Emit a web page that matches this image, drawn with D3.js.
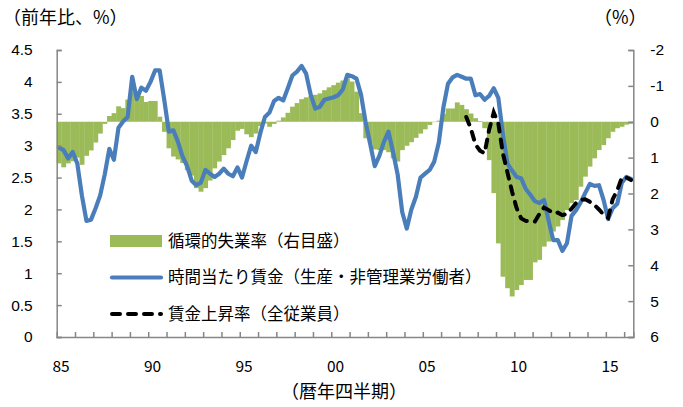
<!DOCTYPE html>
<html>
<head>
<meta charset="utf-8">
<script src="https://cdn.jsdelivr.net/npm/d3@7"></script>
<style>
  body { margin: 0; background: #fff; }
  svg { display: block; font-family: "Noto Sans CJK JP", "Noto Sans", sans-serif; }
  .axis path, .axis line { stroke: #868686; stroke-width: 1.5; }
  .axis text { fill: #000; font-size: 15.5px; }
</style>
</head>
<body>
<svg id="chart" width="683" height="407"></svg>
<script>
// quarterly, 1985Q1 - 2016Q2
const startYear = 1985;
const nQuarters = 126;

// cyclical unemployment rate (right axis, inverted), %pt
const gapValues = [
  1.16, 1.27, 1.16, 1.10, 1.00, 1.20, 0.95, 0.80, 0.58, 0.33, 0.06, -0.16,
  -0.24, -0.43, -0.38, -0.62, -0.84, -0.75, -0.72, -0.55, -0.58, -0.58, -0.14, 0.28,
  0.74, 0.97, 1.05, 1.15, 1.35, 1.50, 1.85, 1.95, 1.85, 1.64, 1.30, 1.11,
  0.93, 0.74, 0.51, 0.25, 0.20, 0.35, 0.43, 0.33, 0.12, 0.05, 0.14, 0.06,
  -0.03, -0.12, -0.25, -0.42, -0.52, -0.63, -0.68, -0.72, -0.75, -0.79, -0.88, -0.96,
  -1.02, -1.09, -1.15, -1.21, -1.12, -0.84, -0.24, 0.46, 0.60, 0.77, 0.79, 0.79,
  0.85, 1.02, 1.11, 0.79, 0.67, 0.57, 0.45, 0.33, 0.21, 0.09, 0.01, -0.03,
  -0.22, -0.37, -0.37, -0.54, -0.47, -0.35, -0.23, -0.10, -0.02, 0.18, 1.07, 1.99,
  3.39, 4.32, 4.64, 4.87, 4.69, 4.55, 4.41, 4.41, 3.92, 3.85, 3.48, 3.34,
  3.06, 2.92, 2.74, 2.46, 2.27, 2.18, 1.81, 1.53, 1.25, 1.02, 0.79, 0.65,
  0.46, 0.28, 0.18, 0.14, 0.08, 0.06
];

// hourly earnings, production & nonsupervisory, yoy %
const wageValues = [
  2.97, 2.93, 2.80, 2.90, 2.72, 2.22, 1.82, 1.84, 2.02, 2.22, 2.55, 2.95,
  2.78, 3.28, 3.38, 3.45, 4.08, 3.73, 3.91, 3.86, 4.00, 4.18, 4.18, 3.72,
  3.22, 3.24, 3.06, 2.83, 2.68, 2.45, 2.38, 2.42, 2.62, 2.56, 2.51, 2.56,
  2.64, 2.56, 2.52, 2.66, 2.50, 2.76, 3.00, 2.90, 3.20, 3.45, 3.52, 3.70,
  3.75, 3.71, 3.90, 4.10, 4.16, 4.25, 4.13, 3.80, 3.58, 3.61, 3.72, 3.74,
  3.76, 3.79, 3.88, 4.11, 4.09, 4.05, 3.80, 3.37, 3.03, 2.68, 2.84, 3.06,
  3.22, 2.90, 2.55, 1.96, 1.70, 2.00, 2.20, 2.50, 2.56, 2.62, 2.75, 3.05,
  3.60, 3.97, 4.07, 4.11, 4.08, 4.05, 4.05, 3.79, 3.81, 3.72, 3.78, 3.90,
  3.75, 3.18, 2.72, 2.61, 2.51, 2.49, 2.32, 2.23, 2.13, 2.10, 2.15, 1.82,
  1.52, 1.52, 1.35, 1.47, 1.90, 1.99, 2.11, 2.26, 2.40, 2.37, 2.38, 2.15,
  1.85, 2.02, 2.09, 2.42, 2.51, 2.48
];

// hourly earnings, all employees, yoy % (from 2007Q2)
const allStart = 89;
const allValues = [
  3.45, 3.27, 3.02, 2.92, 2.88, 3.25, 3.52, 3.35, 2.88, 2.58, 2.28, 2.02,
  1.86, 1.82, 1.81, 1.81, 1.93, 2.03, 1.99, 1.94, 1.95, 1.91, 1.93, 2.01,
  2.10, 2.15, 2.16, 2.12, 2.07, 2.00, 1.92, 1.87, 2.16, 2.30, 2.50, 2.50,
  2.46
];

const leftTicks = [0, 0.5, 1, 1.5, 2, 2.5, 3, 3.5, 4, 4.5];
const rightTicks = [-2, -1, 0, 1, 2, 3, 4, 5, 6];
const yearLabels = ["85", "90", "95", "00", "05", "10", "15"];

const legendItems = [
  {type: "bar", label: "循環的失業率（右目盛）"},
  {type: "line", label: "時間当たり賃金（生産・非管理業労働者）"},
  {type: "dash", label: "賃金上昇率（全従業員）"}
];

const green = "#9bbb59";
const blue = "#4a7ebb";

const quarters = d3.range(nQuarters);
const plotLeft = 56.7, plotRight = 633.3, plotTop = 50, plotBottom = 337;

const x = d3.scaleBand().domain(quarters).range([plotLeft, plotRight]).padding(0);
const xYear = d3.scaleLinear().domain([startYear, startYear + nQuarters / 4]).range([plotLeft, plotRight]);
const yL = d3.scaleLinear().domain([0, 4.5]).range([plotBottom, plotTop]);
const yR = d3.scaleLinear().domain([-2, 6]).range([plotTop, plotBottom]);

const svg = d3.select("#chart");

// bars
svg.append("g")
  .selectAll("rect")
  .data(gapValues)
  .enter()
  .append("rect")
  .attr("x", (d, i) => x(i))
  .attr("width", x.bandwidth() + 0.3)
  .attr("y", d => Math.min(yR(0), yR(d)))
  .attr("height", d => Math.abs(yR(d) - yR(0)))
  .attr("fill", green);

// lines
const wageLine = d3.line()
  .x((d, i) => x(i) + x.bandwidth() / 2)
  .y(d => yL(d));

svg.append("path")
  .datum(wageValues)
  .attr("d", wageLine)
  .attr("fill", "none")
  .attr("stroke", blue)
  .attr("stroke-width", 4.2)
  .attr("stroke-linejoin", "round")
  .attr("stroke-linecap", "round");

const allLine = d3.line()
  .x((d, i) => x(i + allStart) + x.bandwidth() / 2)
  .y(d => yL(d));

svg.append("path")
  .datum(allValues)
  .attr("d", allLine)
  .attr("fill", "none")
  .attr("stroke", "#000")
  .attr("stroke-width", 4)
  .attr("stroke-dasharray", "8,8")
  .attr("stroke-linecap", "round");

// axes
svg.append("g")
  .attr("class", "axis")
  .attr("transform", `translate(${plotLeft},0)`)
  .call(d3.axisLeft(yL).tickValues(leftTicks).tickSize(-5).tickPadding(24).tickFormat(d => String(d)));

svg.append("g")
  .attr("class", "axis")
  .attr("transform", `translate(${plotRight},0)`)
  .call(d3.axisRight(yR).tickValues(rightTicks).tickSize(-5).tickPadding(17).tickFormat(d => String(d)));

svg.append("g")
  .attr("class", "axis")
  .attr("transform", `translate(0,${plotBottom})`)
  .call(d3.axisBottom(xYear).tickValues(d3.range(startYear + 1, startYear + 32)).tickSize(-5).tickFormat(""));

svg.selectAll(".axis .domain").attr("stroke-width", 2);

svg.append("g")
  .selectAll("text")
  .data(yearLabels)
  .enter()
  .append("text")
  .attr("x", (d, i) => x(i * 20) + x.bandwidth() / 2 + 2)
  .attr("y", 372)
  .attr("text-anchor", "middle")
  .attr("font-size", "15.5px")
  .text(d => d);

// titles
svg.append("text").attr("x", 3).attr("y", 24).attr("font-size", "18px").text("（前年比、%）");
svg.append("text").attr("x", 594).attr("y", 24).attr("font-size", "18px").text("（%）");
svg.append("text").attr("x", 344).attr("y", 398).attr("text-anchor", "middle")
  .attr("font-size", "18px").text("（暦年四半期）");

// legend
const lg = svg.append("g")
  .selectAll("g")
  .data(legendItems)
  .enter()
  .append("g")
  .attr("transform", (d, i) => `translate(110,${241 + i * 36.5})`);

lg.filter(d => d.type === "bar").append("rect")
  .attr("x", 0).attr("y", -6).attr("width", 52).attr("height", 12).attr("fill", green);
lg.filter(d => d.type === "line").append("line")
  .attr("x1", 2).attr("x2", 51).attr("stroke", blue).attr("stroke-width", 4.2)
  .attr("stroke-linecap", "round");
lg.filter(d => d.type === "dash").append("line")
  .attr("x1", 2).attr("x2", 51).attr("stroke", "#000").attr("stroke-width", 4)
  .attr("stroke-dasharray", "8,8").attr("stroke-linecap", "round");

lg.append("text")
  .attr("x", 58)
  .attr("dy", "0.35em")
  .attr("font-size", "16.5px")
  .text(d => d.label);
</script>
</body>
</html>
